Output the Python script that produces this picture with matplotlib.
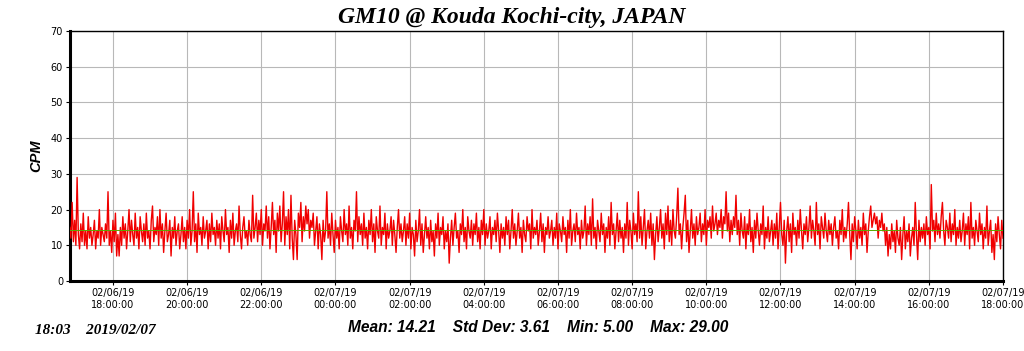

# GM10 geiger counter log, one day window
import numpy as np
import pandas as pd
import matplotlib.pyplot as plt
import matplotlib.dates as mdates

# CPM readings every 2 minutes, starting 2019/02/06 16:50
cpm = [
    15, 12, 22, 11, 17, 10, 29, 13, 9, 16, 11, 19, 10, 14, 9, 18, 12, 15, 10, 13, 17, 9, 14, 12, 20, 10, 15, 13, 11, 16,
    12, 25, 10, 14, 8, 17, 11, 19, 7, 13, 7, 15, 10, 18, 12, 16, 9, 14, 20, 11, 17, 13, 10, 19, 12, 15, 9, 18, 14, 11,
    16, 10, 19, 12, 14, 9, 17, 21, 11, 15, 13, 18, 10, 20, 12, 16, 8, 14, 19, 11, 13, 17, 7, 15, 12, 18, 10, 14, 16, 9,
    13, 18, 11, 15, 9, 17, 12, 20, 10, 14, 25, 11, 16, 8, 19, 13, 15, 10, 18, 12, 14, 17, 9, 16, 11, 19, 13, 15, 10, 17,
    12, 16, 9, 18, 14, 11, 20, 13, 15, 8, 17, 12, 19, 10, 14, 16, 11, 21, 13, 9, 15, 18, 12, 14, 10, 17, 13, 11, 24, 12,
    15, 19, 11, 17, 13, 20, 10, 16, 14, 21, 12, 18, 9, 15, 22, 13, 17, 8, 19, 14, 21, 11, 16, 25, 10, 18, 13, 20, 9, 24,
    12, 6, 17, 13, 6, 19, 15, 22, 11, 18, 14, 21, 16, 20, 12, 17, 15, 19, 10, 14, 18, 9, 16, 13, 6, 17, 11, 14, 25, 12,
    16, 10, 19, 13, 8, 17, 12, 15, 9, 18, 14, 11, 20, 13, 16, 10, 21, 12, 15, 9, 17, 14, 25, 11, 18, 13, 16, 10, 19, 12,
    15, 9, 17, 13, 20, 11, 16, 8, 18, 14, 12, 21, 10, 15, 13, 19, 9, 16, 12, 14, 18, 10, 17, 13, 8, 15, 20, 12, 16, 11,
    14, 18, 10, 16, 12, 19, 9, 15, 13, 7, 17, 11, 14, 20, 10, 16, 8, 13, 18, 12, 15, 9, 17, 11, 14, 7, 16, 12, 19, 10,
    15, 13, 18, 9, 14, 11, 16, 5, 12, 17, 10, 15, 19, 12, 14, 8, 16, 13, 20, 11, 15, 9, 18, 14, 12, 17, 10, 16, 13, 19,
    11, 15, 9, 17, 13, 20, 10, 16, 12, 14, 18, 9, 15, 13, 17, 11, 19, 14, 8, 16, 12, 15, 10, 18, 13, 17, 9, 14, 20, 12,
    16, 10, 14, 19, 12, 15, 8, 17, 13, 11, 18, 14, 16, 9, 20, 12, 15, 13, 17, 10, 14, 19, 11, 16, 8, 15, 13, 18, 12, 14,
    17, 10, 15, 12, 19, 9, 16, 14, 11, 18, 13, 15, 8, 17, 12, 20, 10, 14, 16, 11, 19, 13, 15, 9, 17, 12, 14, 21, 10, 16,
    13, 18, 10, 23, 12, 15, 9, 17, 14, 11, 19, 13, 16, 8, 15, 12, 18, 10, 22, 13, 16, 9, 14, 19, 11, 17, 12, 15, 8, 16,
    12, 22, 10, 17, 14, 9, 19, 13, 16, 11, 25, 12, 18, 10, 15, 20, 9, 14, 17, 12, 19, 10, 16, 6, 13, 18, 11, 15, 20, 12,
    16, 9, 19, 13, 21, 11, 17, 10, 20, 14, 12, 18, 26, 13, 16, 9, 15, 19, 24, 11, 17, 8, 14, 20, 12, 16, 10, 18, 13, 15,
    19, 11, 16, 13, 20, 10, 17, 15, 18, 12, 21, 14, 16, 19, 13, 17, 15, 20, 12, 18, 16, 25, 14, 19, 11, 17, 13, 18, 15, 24,
    13, 17, 10, 19, 14, 12, 18, 9, 16, 13, 20, 11, 15, 8, 17, 12, 19, 14, 10, 16, 13, 21, 9, 15, 12, 18, 11, 14, 17, 10,
    16, 12, 19, 9, 15, 22, 13, 10, 17, 5, 14, 18, 11, 16, 8, 19, 13, 15, 10, 17, 12, 20, 14, 9, 16, 13, 18, 11, 15, 21,
    12, 17, 14, 10, 22, 13, 16, 9, 18, 15, 12, 19, 14, 11, 17, 13, 16, 10, 15, 18, 12, 14, 9, 17, 13, 20, 11, 15, 12, 16,
    22, 13, 6, 16, 11, 18, 14, 9, 17, 12, 15, 10, 19, 13, 16, 8, 14, 18, 21, 15, 17, 19, 16, 18, 12, 17, 15, 19, 14, 16,
    10, 15, 7, 13, 9, 16, 11, 14, 8, 17, 12, 10, 15, 6, 13, 18, 9, 14, 11, 16, 7, 12, 15, 10, 22, 13, 6, 17, 11, 15,
    12, 16, 10, 18, 13, 15, 9, 27, 14, 17, 11, 19, 13, 16, 12, 18, 22, 14, 10, 17, 15, 12, 19, 11, 16, 13, 20, 10, 15, 12,
    17, 11, 14, 19, 10, 16, 13, 18, 9, 22, 12, 15, 10, 17, 14, 11, 19, 13, 16, 9, 15, 12, 21, 10, 14, 17, 8, 13, 6, 16,
    11, 18, 13, 9, 17, 12,
]
mean_cpm = 14.21
stats_text = "Mean: 14.21    Std Dev: 3.61    Min: 5.00    Max: 29.00"
stamp_text = "18:03    2019/02/07"
title = "GM10 @ Kouda Kochi-city, JAPAN"

times = pd.date_range("2019-02-06 16:50", periods=len(cpm), freq="2min")

fig = plt.figure(figsize=(10.24, 3.51), dpi=100)
ax = fig.add_axes([70/1024, 70/351, 933/1024, 250/351])

ax.plot(times, cpm, color="#f00000", lw=1.0, zorder=3)
ax.axhline(mean_cpm, color="#5aa800", lw=0.7, zorder=4)

ax.set_xlim(pd.Timestamp("2019-02-06 16:50:30"), pd.Timestamp("2019-02-07 18:00"))
ax.set_ylim(0, 70)
ax.set_yticks(range(0, 71, 10))
ticks = pd.date_range("2019-02-06 18:00", "2019-02-07 18:00", freq="2h")
ax.set_xticks(ticks)
ax.set_xticklabels([t.strftime("%m/%d/%y\n%H:%M:%S") for t in ticks])

ax.grid(True, color="#b8b8b8", lw=0.8)
ax.set_axisbelow(True)
ax.tick_params(labelsize=7, length=3, width=0.8, pad=2)

for side in ["left", "bottom"]:
    ax.spines[side].set_linewidth(2.2)
for side in ["top", "right"]:
    ax.spines[side].set_linewidth(1.0)

ax.set_ylabel("CPM", fontsize=10.5, fontweight="bold", fontstyle="italic",
              family="Liberation Sans", labelpad=5)

fig.text(0.5, 1 - 17/351, title, ha="center", va="center", fontsize=17,
         fontweight="bold", fontstyle="italic", family="Liberation Serif")
fig.text(538/1024, 1 - 327/351, stats_text, ha="center", va="center",
         fontsize=11.2, fontweight="bold", fontstyle="italic", family="Liberation Sans")
fig.text(35/1024, 1 - 331/351, stamp_text, ha="left", va="center",
         fontsize=11, fontweight="bold", fontstyle="italic", family="Liberation Serif")

fig.savefig("out.png", dpi=100)
